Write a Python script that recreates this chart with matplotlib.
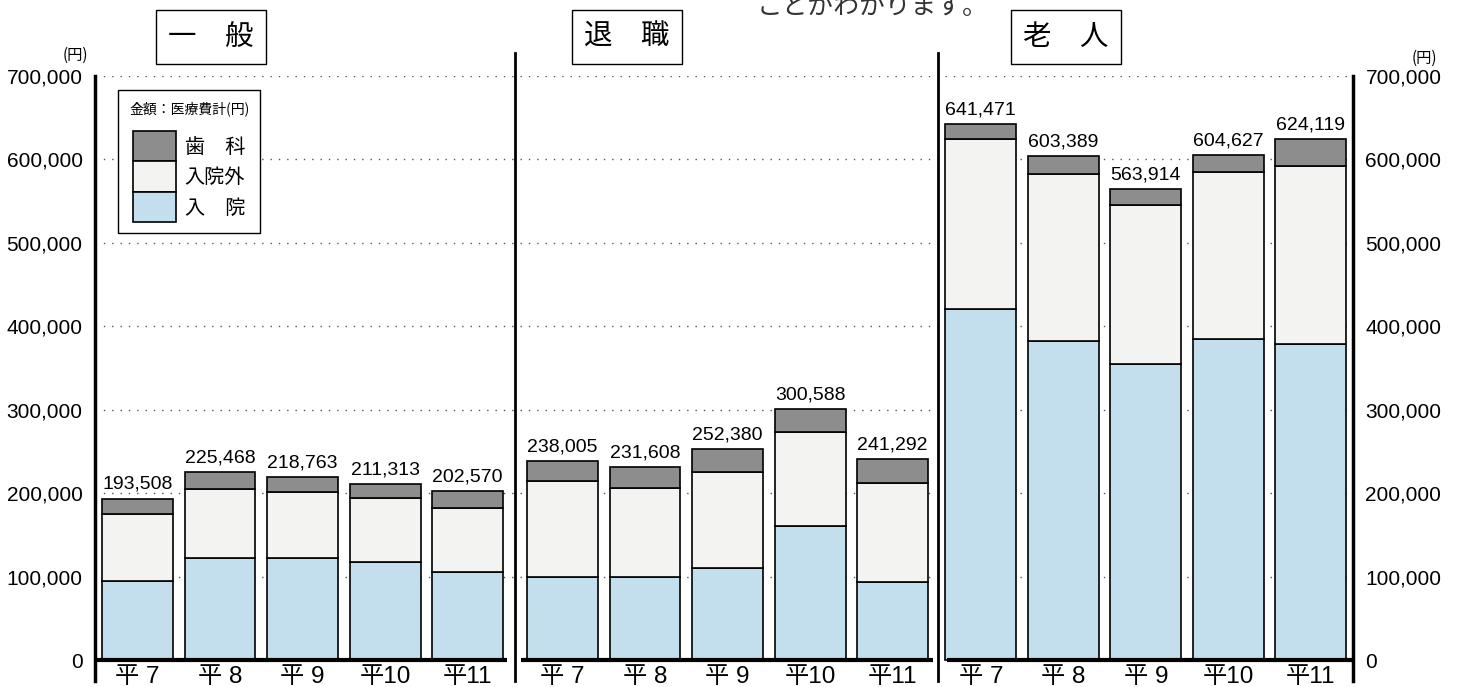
import numpy as np
import matplotlib
matplotlib.use('Agg')
import matplotlib.pyplot as plt
from matplotlib.patches import Patch

plt.rcParams['font.family'] = ['Liberation Sans', 'Noto Sans CJK JP']

# data (円)
years = ['平 7', '平 8', '平 9', '平10', '平11']
panels = ['一　般', '退　職', '老　人']

total_ippan = [193508, 225468, 218763, 211313, 202570]
nyuin_ippan = [95000, 122000, 122000, 117000, 106000]
gairai_ippan = [80500, 83468, 79763, 77313, 75570]
shika_ippan = [18008, 20000, 17000, 17000, 21000]

total_taishoku = [238005, 231608, 252380, 300588, 241292]
nyuin_taishoku = [99000, 100000, 110000, 160000, 93500]
gairai_taishoku = [115005, 106108, 115380, 113088, 118292]
shika_taishoku = [24000, 25500, 27000, 27500, 29500]

total_rojin = [641471, 603389, 563914, 604627, 624119]
nyuin_rojin = [421000, 382000, 354000, 385000, 379000]
gairai_rojin = [202971, 200389, 190914, 199627, 212119]
shika_rojin = [17500, 21000, 19000, 20000, 33000]

yticks = [0, 100000, 200000, 300000, 400000, 500000, 600000, 700000]

c_nyuin = '#c3dfee'
c_gairai = '#f3f3f2'
c_shika = '#8d8d8d'

W, H = 1459, 687
fig = plt.figure(figsize=(W / 100, H / 100), dpi=100)
ax = fig.add_axes([95 / W, 1 - 681 / H, (1353 - 95) / W, (681 - 75.5) / H])
ax.set_xlim(-0.515, 14.73)
ax.set_ylim(-25000, 700000)

offsets = [0, 5.15, 10.22]
groups = [
    (total_ippan, nyuin_ippan, gairai_ippan, shika_ippan),
    (total_taishoku, nyuin_taishoku, gairai_taishoku, shika_taishoku),
    (total_rojin, nyuin_rojin, gairai_rojin, shika_rojin),
]

# dotted grid
for v in yticks[1:]:
    ax.axhline(v, color='#555555', lw=1.0, ls=(0, (1, 5)), zorder=0)

xpos_all = []
for off, (tot, ny, ga, sh) in zip(offsets, groups):
    x = np.arange(5) + off
    xpos_all += list(x)
    ny = np.array(ny)
    ga = np.array(ga)
    sh = np.array(sh)
    kw = dict(width=0.86, edgecolor='black', linewidth=1.2, zorder=2)
    ax.bar(x, ny, color=c_nyuin, **kw)
    ax.bar(x, ga, bottom=ny, color=c_gairai, **kw)
    ax.bar(x, sh, bottom=ny + ga, color=c_shika, **kw)
    for xi, t in zip(x, tot):
        ax.annotate(f'{t:,}', (xi, t), xytext=(0, 4), textcoords='offset points',
                    ha='center', va='bottom', fontsize=14)

# baseline segments and separators
for x0, x1 in [(-0.515, 4.48), (4.65, 9.64), (9.81, 14.73)]:
    ax.plot([x0, x1], [0, 0], color='black', lw=3, solid_capstyle='butt', zorder=3)
for xs in [4.576, 9.70]:
    ax.axvline(xs, ymin=0, ymax=1.037, color='black', lw=2, clip_on=False, zorder=3)

for s in ['top', 'bottom']:
    ax.spines[s].set_visible(False)
for s in ['left', 'right']:
    ax.spines[s].set_linewidth(2.5)

ax.set_yticks(yticks)
ax.set_yticklabels([f'{v:,}' for v in yticks])
ax.tick_params(axis='y', length=0, pad=9, labelsize=15, left=False, right=False,
               labelleft=True, labelright=True)
ax.set_xticks(xpos_all)
ax.set_xticklabels(years * 3)
ax.tick_params(axis='x', length=0, pad=-11, labelsize=17.5)

# unit labels
fig.text(75 / W, 1 - 55 / H, '(円)', ha='center', va='center', fontsize=11,
         family=['Noto Sans CJK JP'])
fig.text(1424 / W, 1 - 58 / H, '(円)', ha='center', va='center', fontsize=11,
         family=['Noto Sans CJK JP'])

# panel titles
for name, cx in zip(panels, [211, 627, 1066]):
    fig.text(cx / W, 1 - 37 / H, name, ha='center', va='center', fontsize=20.5,
             family=['Noto Sans CJK JP'],
             bbox=dict(boxstyle='square,pad=0.42', fc='white', ec='black', lw=1))

# cut-off caption text at top
fig.text(757 / W, 1 - 7 / H, 'ことがわかります。', ha='left', va='center', fontsize=18.5,
         color='#333333', family=['Noto Sans CJK JP'])

# legend
handles = [Patch(fc=c_shika, ec='black', lw=1.2),
           Patch(fc=c_gairai, ec='black', lw=1.2),
           Patch(fc=c_nyuin, ec='black', lw=1.2)]
leg = ax.legend(handles, ['歯　科', '入院外', '入　院'], title='金額：医療費計(円)\n',
                loc='upper left', bbox_to_anchor=(118 / W, 1 - 90 / H),
                bbox_transform=fig.transFigure, fancybox=False, edgecolor='black',
                framealpha=1, fontsize=14.5, title_fontsize=10,
                handlelength=2.1, handleheight=1.95, labelspacing=0,
                handletextpad=0.45, borderpad=0.55, borderaxespad=0)
leg.get_frame().set_linewidth(1)
for t in leg.get_texts():
    t.set_family(['Noto Sans CJK JP'])
leg.get_title().set_family(['Noto Sans CJK JP'])
leg.get_title().set_linespacing(1.1)

fig.savefig('out.png', dpi=100)
